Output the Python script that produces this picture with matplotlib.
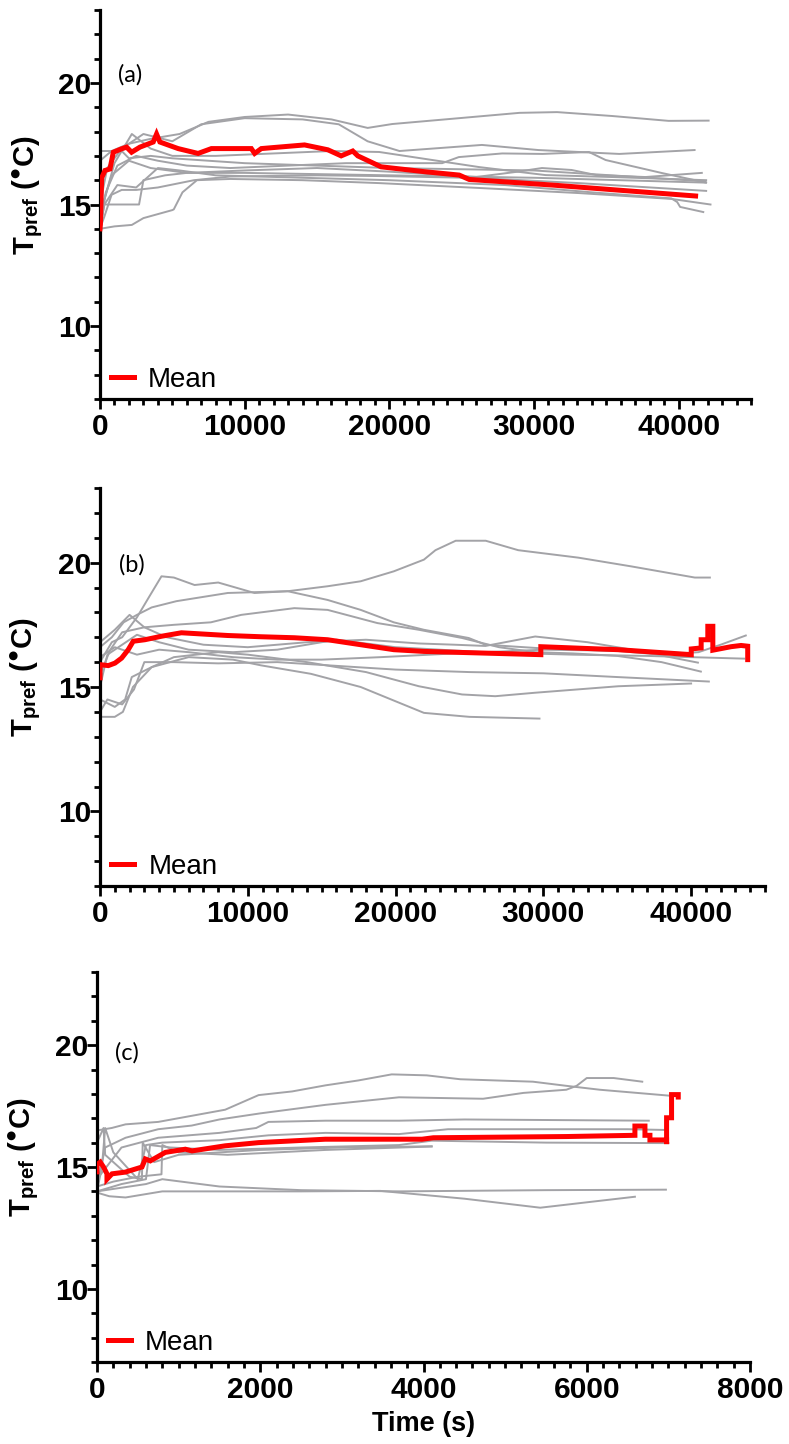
import matplotlib
matplotlib.use('Agg')
import matplotlib.pyplot as plt
from matplotlib.ticker import MultipleLocator

plt.rcParams['font.family'] = ['Liberation Sans', 'DejaVu Sans']
plt.rcParams['font.weight'] = 'bold'
plt.rcParams['mathtext.fontset'] = 'custom'
plt.rcParams['mathtext.rm'] = 'Liberation Sans'
plt.rcParams['mathtext.bf'] = 'Liberation Sans:bold'

GREY = '#a3a3a7'
RED = '#ff0000'

# ---------------- panel (a) ----------------
a_grey_t = [
    [0, 800, 2000, 3500, 5500, 7500, 10000, 13000, 16000, 18500, 20200, 25000, 29000, 31600, 35400, 39300, 42070],
    [0, 500, 1500, 3000, 5000, 7000, 10000, 14000, 16500, 18500, 20700, 26400, 30300, 35900, 41100],
    [0, 400, 1200, 2500, 4000, 6000, 9000, 13000, 17000, 20700, 23650, 24800, 27800, 30600, 33800, 34950, 38800, 41900],
    [0, 200, 800, 2000, 3500, 6000, 10000, 15000, 20000, 26000, 28750, 30550, 32600, 34300, 37700, 41600],
    [0, 300, 1000, 2200, 3500, 5000, 8000, 12000, 16000, 19300, 26200, 30800, 35400, 41900],
    [0, 300, 2700, 3000, 4500, 6000, 10000, 15000, 20000, 30000, 41860],
    [0, 300, 800, 1500, 2500, 4000, 6500, 9000, 15000, 19300, 26200, 33100, 41900],
    [0, 1000, 2200, 3000, 5000, 5100, 5700, 6700, 9000, 14000, 19300, 26200, 33100, 39500, 42200],
    [0, 300, 1200, 2500, 4000, 5500, 8000, 14000, 20000, 28000, 34000, 39500, 39900, 40100, 41700],
    [0, 1500, 2000, 3500, 5000, 10000, 20000, 30000, 38000, 41860],
]
a_grey_T = [
    [16.8, 17.2, 17.5, 17.7, 17.9, 18.4, 18.6, 18.7, 18.5, 18.15, 18.31, 18.56, 18.77, 18.8, 18.64, 18.44, 18.45],
    [15.0, 16.5, 17.3, 17.9, 17.6, 18.3, 18.55, 18.5, 18.3, 17.6, 17.2, 17.45, 17.24, 17.08, 17.24],
    [14.2, 15.5, 16.6, 17.0, 16.8, 16.6, 16.5, 16.6, 16.7, 16.7, 16.7, 16.95, 17.1, 17.08, 17.16, 16.83, 16.3, 15.9],
    [14.1, 15.0, 16.2, 16.8, 16.5, 16.3, 16.4, 16.5, 16.35, 16.13, 16.34, 16.5, 16.42, 16.21, 16.13, 16.3],
    [14.0, 15.2, 16.7, 17.9, 17.3, 17.0, 17.0, 17.1, 17.2, 17.16, 16.54, 16.21, 16.13, 16.0],
    [14.0, 15.0, 15.0, 16.0, 16.2, 16.3, 16.3, 16.25, 16.2, 16.1, 15.9],
    [14.0, 14.5, 15.4, 15.6, 15.6, 15.7, 16.0, 16.15, 16.2, 16.17, 16.09, 15.88, 15.56],
    [14.0, 14.1, 14.16, 14.44, 14.77, 14.8, 15.5, 16.0, 16.05, 16.0, 15.88, 15.68, 15.47, 15.23, 15.0],
    [14.0, 15.0, 15.8, 15.7, 16.5, 16.4, 16.2, 16.1, 16.0, 15.8, 15.5, 15.25, 15.1, 14.9, 14.69],
    [17.2, 17.2, 16.9, 17.0, 16.9, 16.7, 16.5, 16.4, 16.1, 15.95],
]
a_mean_t = [0, 30, 115, 345, 690, 920, 1495, 1840, 2185, 2760, 3680, 3910, 4140, 5400, 6780, 7700,
            10460, 10690, 11150, 14140, 15750, 16670, 17470, 17820, 19430, 22420, 24830, 25520,
            31260, 35630, 41170]
a_mean_T = [14.0, 14.2, 16.1, 16.4, 16.46, 17.15, 17.29, 17.36, 17.15, 17.36, 17.57, 17.9, 17.57, 17.3, 17.1, 17.3,
            17.3, 17.1, 17.3, 17.45, 17.25, 17.0, 17.2, 17.0, 16.55, 16.35, 16.21, 16.03,
            15.8, 15.6, 15.35]

# ---------------- panel (b) ----------------
b_grey_t = [
    [0, 800, 1600, 2500, 3500, 5170, 8650, 12700, 15400, 17640, 19880, 21920, 22700, 24070, 26100, 28300, 32370, 35940, 40250, 41270],
    [0, 800, 1500, 2500, 3300, 4160, 5000, 6400, 8000, 10450, 12700, 15400, 17640, 19880, 21920, 24950, 26080, 30000, 35000, 38000, 40500, 42000, 43700],
    [0, 700, 1500, 3000, 5000, 7500, 9560, 13150, 15400, 18770, 21580, 24500, 27000, 29450, 32000, 35000, 38000, 40660],
    [0, 1000, 2000, 3000, 4500, 7000, 10000, 14000, 18000, 21580, 24000, 26080, 29450, 33000, 36000, 40460],
    [0, 500, 1500, 2500, 4000, 6000, 9000, 12000, 16000, 20000, 26000, 32000, 37000, 40000, 43600],
    [0, 500, 1500, 2300, 3000, 5000, 8000, 12000, 16000, 20000, 25000, 30000, 35000, 41200],
    [0, 1000, 1550, 2230, 3500, 5000, 8000, 10000, 14000, 18000, 21580, 24500, 26750, 29450, 35070, 40000],
    [0, 1000, 1700, 2150, 3500, 6000, 9000, 10900, 14270, 17640, 21920, 25000, 29740],
    [0, 1000, 2500, 4000, 6000, 9000, 12000, 15000, 19000, 24000, 30000, 36000, 40000],
]
b_grey_T = [
    [16.6, 17.0, 17.6, 17.9, 18.2, 18.45, 18.78, 18.85, 19.05, 19.25, 19.65, 20.12, 20.5, 20.88, 20.88, 20.5, 20.2, 19.85, 19.4, 19.4],
    [16.0, 16.8, 17.0, 17.8, 18.6, 19.45, 19.4, 19.1, 19.2, 18.78, 18.85, 18.5, 18.1, 17.6, 17.3, 16.97, 16.7, 16.55, 16.45, 16.3, 16.4, 16.7, 17.07],
    [15.5, 16.5, 17.2, 17.4, 17.5, 17.6, 17.9, 18.17, 18.1, 17.57, 17.3, 16.97, 16.6, 16.4, 16.35, 16.25, 16.0, 15.62],
    [16.8, 17.3, 17.9, 17.4, 17.0, 16.7, 16.6, 16.8, 16.9, 16.75, 16.7, 16.65, 17.03, 16.8, 16.5, 15.98],
    [15.0, 16.3, 16.7, 17.1, 16.8, 16.5, 16.4, 16.5, 16.9, 16.6, 16.4, 16.3, 16.25, 16.2, 16.14],
    [14.0, 14.5, 14.3, 14.9, 16.0, 16.0, 15.95, 16.0, 15.85, 15.7, 15.6, 15.55, 15.4, 15.22],
    [13.8, 13.8, 14.0, 15.0, 15.8, 16.2, 16.4, 16.3, 16.0, 15.6, 15.03, 14.7, 14.63, 14.77, 15.03, 15.14],
    [14.5, 14.2, 14.5, 15.4, 15.8, 16.2, 16.1, 15.87, 15.53, 15.0, 13.96, 13.8, 13.73],
    [16.2, 16.6, 16.3, 16.5, 16.4, 16.2, 16.1, 16.1, 16.2, 16.35, 16.5, 16.45, 16.35],
]
b_mean_t = [0, 0, 562, 1011, 1461, 1910, 2250, 3034, 4160, 5510, 8654, 10900, 13150, 15400, 17640,
            19880, 21920, 25000, 29830, 29830, 35070, 40010, 40010, 40680, 40680, 41130, 41130,
            41470, 41470, 42700, 43380, 43830, 43830]
b_mean_T = [15.37, 15.9, 15.86, 15.96, 16.16, 16.5, 16.84, 16.9, 17.04, 17.18, 17.07, 17.02, 16.98, 16.9, 16.7,
            16.5, 16.43, 16.38, 16.3, 16.62, 16.5, 16.3, 16.53, 16.57, 16.9, 16.9, 17.44,
            17.44, 16.48, 16.62, 16.67, 16.64, 16.1]

# ---------------- panel (c) ----------------
c_grey_t = [
    [0, 180, 350, 750, 1160, 1570, 1980, 2390, 2800, 3200, 3610, 4040, 4450, 5340, 5750, 6160, 7000],
    [0, 100, 350, 750, 1160, 1500, 2000, 2800, 3700, 4730, 5225, 5750, 5876, 6000, 6330, 6680],
    [0, 300, 750, 1500, 1950, 2100, 2800, 3700, 4500, 6760],
    [0, 60, 100, 200, 500, 600, 800, 1500, 2100, 2800, 3700, 4300, 5500, 6500, 6960],
    [0, 300, 600, 650, 900, 1500, 2500, 3700, 4100, 5500, 7000],
    [0, 200, 500, 790, 800, 1000, 1600, 2800, 4100],
    [0, 200, 600, 800, 1500, 2500, 3700, 5500, 6970],
    [0, 150, 350, 800, 1500, 2500, 3470, 4500, 5430, 6590],
    [0, 80, 100, 400, 550, 560, 700, 1000, 2000, 3000, 4100],
]
c_grey_T = [
    [16.5, 16.6, 16.75, 16.85, 17.1, 17.35, 17.95, 18.1, 18.35, 18.55, 18.8, 18.76, 18.6, 18.5, 18.33, 18.17, 17.93],
    [14.2, 15.8, 16.2, 16.55, 16.7, 16.95, 17.2, 17.55, 17.86, 17.8, 18.04, 18.17, 18.33, 18.65, 18.65, 18.5],
    [14.5, 15.8, 16.2, 16.4, 16.6, 16.85, 16.9, 16.9, 16.95, 16.9],
    [14.0, 15.0, 16.6, 15.6, 14.5, 15.9, 16.0, 16.1, 16.3, 16.4, 16.35, 16.55, 16.55, 16.55, 16.52],
    [14.0, 14.3, 14.5, 15.9, 15.8, 15.7, 15.8, 15.9, 16.08, 16.0, 15.98],
    [14.2, 14.4, 14.6, 14.7, 15.9, 15.6, 15.5, 15.7, 15.84],
    [14.0, 14.1, 14.3, 14.5, 14.2, 14.05, 14.0, 14.05, 14.07],
    [13.95, 13.8, 13.75, 14.0, 14.0, 14.0, 14.02, 13.7, 13.33, 13.78],
    [16.0, 16.6, 15.5, 14.6, 14.5, 16.0, 15.2, 15.5, 15.7, 15.8, 15.85],
]
c_mean_t = [0, 0, 40, 80, 122, 122, 184, 347, 551, 592, 653, 837, 1082, 1164, 1572, 1980, 2797,
            3982, 4121, 5754, 6590, 6590, 6713, 6713, 6774, 6774, 6978, 6978, 6978, 7039, 7039,
            7121, 7121]
c_mean_T = [14.8, 15.1, 15.2, 15.0, 14.72, 14.5, 14.72, 14.79, 15.0, 15.33, 15.25, 15.6, 15.73, 15.66, 15.87, 16.0, 16.14,
            16.14, 16.2, 16.25, 16.3, 16.68, 16.68, 16.3, 16.3, 16.11, 16.11, 15.94, 17.02, 17.02, 17.97,
            17.97, 17.87]

W, H = 789, 1444
panels = [
    # tag, grey t, grey T, mean t, mean T, box in pixels (left, top, right, bottom), xmax, major, minor, tag y
    ('(a)', a_grey_t, a_grey_T, a_mean_t, a_mean_T, (100, 10, 751, 399), 45000, 10000, 1000, 0.833),
    ('(b)', b_grey_t, b_grey_T, b_mean_t, b_mean_T, (100, 488, 765, 886), 45000, 10000, 1000, 0.807),
    ('(c)', c_grey_t, c_grey_T, c_mean_t, c_mean_T, (97, 972, 750, 1362), 8000, 2000, 200, 0.792),
]

fig = plt.figure(figsize=(W / 100, H / 100), dpi=100)

for i, (tag, gt, gT, mt, mT, box, xmax, major, minor, tag_y) in enumerate(panels):
    l, t, r, b = box
    ax = fig.add_axes([l / W, 1 - b / H, (r - l) / W, (b - t) / H])
    for xs, ys in zip(gt, gT):
        ax.plot(xs, ys, color=GREY, lw=1.4, zorder=2)
    ax.plot(mt, mT, color=RED, lw=3.6, zorder=3, label='Mean', solid_joinstyle='miter')

    ax.set_xlim(0, xmax)
    ax.set_ylim(7, 23)
    ax.xaxis.set_major_locator(MultipleLocator(major))
    ax.xaxis.set_minor_locator(MultipleLocator(minor))
    ax.yaxis.set_major_locator(MultipleLocator(5))
    ax.yaxis.set_minor_locator(MultipleLocator(1))

    for s in ['top', 'right']:
        ax.spines[s].set_visible(False)
    for s in ['left', 'bottom']:
        ax.spines[s].set_linewidth(2.3)
    ax.tick_params(which='major', length=7, width=2, labelsize=21.5)
    ax.tick_params(which='minor', length=4, width=2)
    ax.tick_params(axis='y', which='major', pad=-1)
    ax.tick_params(axis='x', which='major', pad=3)

    ax.set_ylabel(r'$\mathbf{T}_{\mathbf{pref}}$ ($^{\mathbf{●}}$C)', fontsize=21, fontweight='bold')
    ax.yaxis.set_label_coords(-0.085, 0.525)

    ax.text(0.028, tag_y, tag, transform=ax.transAxes, fontsize=17, fontweight='normal',
            family=['Lato', 'DejaVu Sans'], ha='left', va='center')

    ax.legend(loc='lower left', bbox_to_anchor=(0.012, 0.008), frameon=False,
              handlelength=0.85, handletextpad=0.5, borderaxespad=0, borderpad=0.1,
              prop={'size': 20, 'weight': 'normal'})

    if i == 2:
        ax.set_xlabel('Time (s)', fontsize=19.5, fontweight='bold', labelpad=5)

fig.savefig('out.png', dpi=100)
